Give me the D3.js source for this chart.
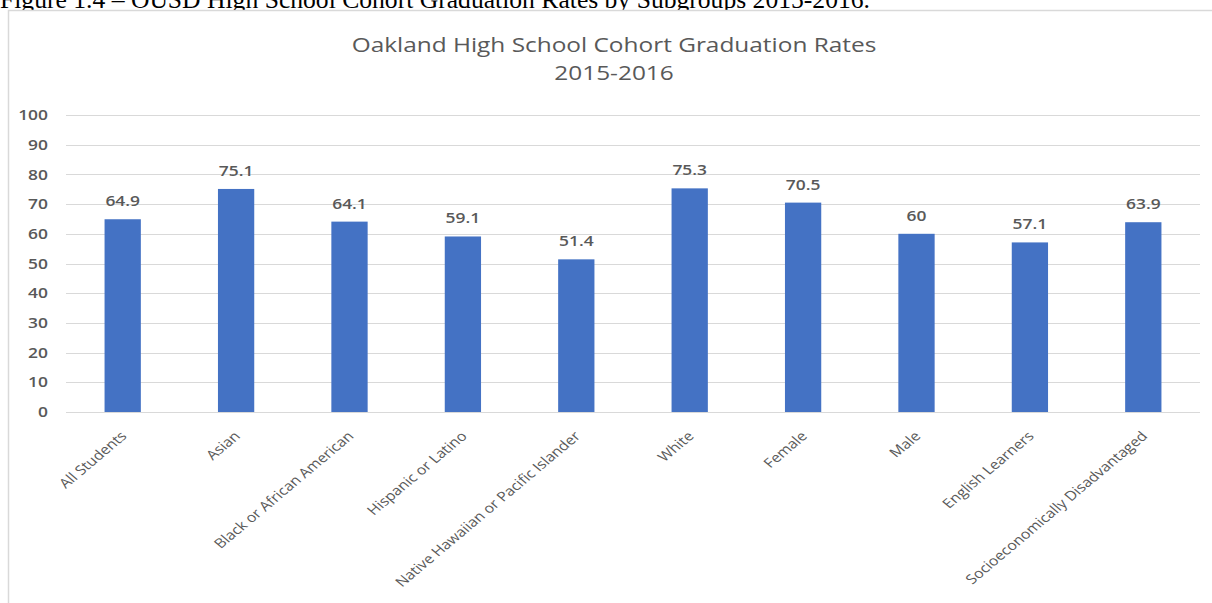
<!DOCTYPE html>
<html>
<head>
<meta charset="utf-8">
<script src="https://cdn.jsdelivr.net/npm/d3@7"></script>
<style>
  html, body { margin: 0; padding: 0; background: #fff; }
  svg { display: block; }
</style>
</head>
<body>
<svg id="chart" width="1212" height="603"></svg>
<script>
const categories = ["All Students", "Asian", "Black or African American", "Hispanic or Latino",
  "Native Hawaiian or Pacific Islander", "White", "Female", "Male", "English Learners",
  "Socioeconomically Disadvantaged"];
const rates = [64.9, 75.1, 64.1, 59.1, 51.4, 75.3, 70.5, 60, 57.1, 63.9];
const yTicks = [0, 10, 20, 30, 40, 50, 60, 70, 80, 90, 100];
const captionText = "Figure 1.4 \u2013 OUSD High School Cohort Graduation Rates by Subgroups 2015-2016.";
const titleLines = ["Oakland High School Cohort Graduation Rates", "2015-2016"];

const svg = d3.select("#chart");
const grey = "#595959";
const stretch = 1.2; // the reference picture is slightly widened horizontally

// caption above chart frame (partially cut off)
const cap = svg.append("text")
  .attr("x", 0).attr("y", 8)
  .attr("font-family", "'Liberation Serif', 'Times New Roman', serif")
  .attr("font-size", 24).attr("fill", "#000")
  .text(captionText);
const cw = cap.node().getComputedTextLength();
cap.attr("font-size", 24 * 870 / cw);

// chart frame
svg.append("rect")
  .attr("x", 8.5).attr("y", 10.5).attr("width", 1220).attr("height", 620)
  .attr("fill", "#fff").attr("stroke", "#d9d9d9").attr("stroke-width", 1.5);

const plot = { left: 66, right: 1200, top: 115, bottom: 412 };

const x = d3.scaleBand().domain(categories).range([plot.left, plot.right]).paddingInner(0.68).paddingOuter(0.34);
const y = d3.scaleLinear().domain([0, 100]).range([plot.bottom, plot.top]);

// gridlines
svg.append("g").selectAll("line").data(yTicks).join("line")
  .attr("x1", plot.left).attr("x2", plot.right)
  .attr("y1", d => Math.round(y(d)) + 0.5).attr("y2", d => Math.round(y(d)) + 0.5)
  .attr("stroke", "#d9d9d9").attr("stroke-width", 1);

// y axis labels
const yAxis = d3.axisLeft(y).tickValues(yTicks).tickSize(0).tickPadding(0);
const yg = svg.append("g").attr("transform", `translate(${48},0)`).call(yAxis);
yg.select(".domain").remove();
yg.selectAll("text").attr("font-family", "'Open Sans', sans-serif").attr("font-size", 14.5)
  .attr("font-weight", 600).attr("fill", grey)
  .attr("transform", `scale(${stretch},1)`);

// bars
svg.append("g").selectAll("rect").data(categories).join("rect")
  .attr("x", d => x(d)).attr("width", x.bandwidth())
  .attr("y", (d, i) => y(rates[i])).attr("height", (d, i) => y(0) - y(rates[i]))
  .attr("fill", "#4472c4");

// value labels
svg.append("g").selectAll("text").data(categories).join("text")
  .attr("transform", (d, i) => `translate(${x(d) + x.bandwidth() / 2},${y(rates[i]) - 13}) scale(${stretch},1)`)
  .attr("text-anchor", "middle")
  .attr("font-family", "'Open Sans', sans-serif").attr("font-size", 14.5).attr("font-weight", 600)
  .attr("fill", grey)
  .text((d, i) => rates[i]);

// x axis labels
const xAxis = d3.axisBottom(x).tickSize(0).tickPadding(0);
const xg = svg.append("g").attr("transform", `translate(0,${plot.bottom})`).call(xAxis);
xg.select(".domain").remove();
xg.selectAll("text")
  .attr("font-family", "'Open Sans', sans-serif").attr("font-size", 13.3)
  .attr("fill", grey)
  .attr("text-anchor", "end")
  .attr("dy", 0)
  .attr("transform", `translate(5,25) scale(1.19,1) rotate(-45)`);

// title
const titleSize = 20;
const title = svg.append("g").attr("font-family", "'Open Sans', sans-serif").attr("fill", grey);
const tLines = title.selectAll("text").data(titleLines).join("text")
  .attr("text-anchor", "middle").attr("font-size", titleSize).attr("fill", grey)
  .text(d => d);
const tw = tLines.node().getComputedTextLength();
const tScale = 525 / tw;
tLines.attr("transform", (d, i) => `translate(614,${52 + i * 28}) scale(${tScale},1)`);
</script>
</body>
</html>
